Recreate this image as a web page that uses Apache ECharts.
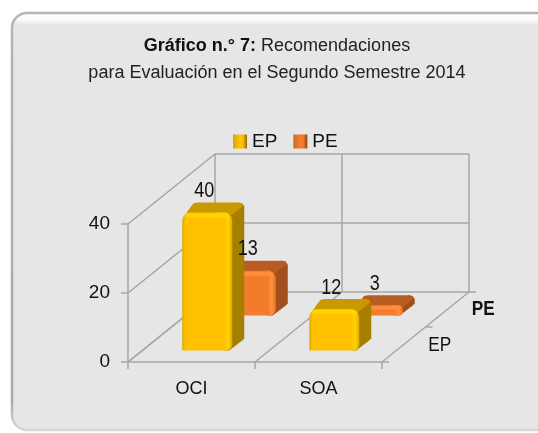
<!DOCTYPE html>
<html><head><meta charset="utf-8">
<script src="https://cdn.jsdelivr.net/npm/echarts@6/dist/echarts.min.js"></script>
<style>html,body{margin:0;padding:0;background:#fff}#c{width:538px;height:433px}</style>
</head><body><div id="c"></div>
<script>
const categories = ['OCI', 'SOA'];
const depthNames = ['EP', 'PE'];
const epValues = [40, 12];
const peValues = [13, 3];
const yTicks = [0, 20, 40];

const DX = 87, DY = -70;
const BAR_W = 50, BAR_DX = 12, BAR_DY = -10;
const NARROW = 0.82;
const palettes = {
  EP: { edge: '#e0a800', front: '#ffc000', hi: '#ffd400', top: '#c99a00', side: '#a67f00' },
  PE: { edge: '#e87528', front: '#f27c2c', hi: '#ff8f3c', top: '#b85c22', side: '#a14f1c' }
};
const FONT = '"Liberation Sans",sans-serif';
const lineColor = '#a6a6a6';

function barBox(api, depthIdx) {
  const base = api.coord([api.value(0), 0]);
  const tip = api.coord([api.value(0), api.value(1)]);
  const t = (depthIdx + 0.5) / 2;
  const cx = base[0] + DX * t - 6, oy = DY * t + 6;
  return { cx, x0: cx - BAR_W / 2, x1: cx + BAR_W / 2, yb: base[1] + oy, yt: tip[1] + oy };
}

function barRender(depthIdx, name) {
  return function (params, api) {
    const p = palettes[name];
    const { x0, x1, yb, yt } = barBox(api, depthIdx);
    const h = yb - yt;
    const r = Math.min(8, h / 2.5);
    const tx1 = x1 + BAR_DX, ty = yt + BAR_DY;
    return {
      type: 'group',
      children: [
        { type: 'polygon', shape: { points: [[x1 - 6, yt], [tx1 - 6, ty], [tx1 - 2, ty + 1], [tx1, ty + 4], [tx1, yb + BAR_DY - 2], [tx1 - 2, yb + BAR_DY], [x1 - 3, yb], [x1 - 8, yb]] }, style: { fill: p.side } },
        { type: 'polygon', shape: { points: [[x0 + 3, yt + 2], [x0 + BAR_DX - 1, ty + 1], [x0 + BAR_DX + 3, ty], [tx1 - 5, ty], [tx1 - 2, ty + 1], [tx1 - 1, ty + 3], [x1 - 1, yt + 3], [x1 - 6, yt]] }, style: { fill: p.top } },
        { type: 'rect', shape: { x: x0, y: yt, width: BAR_W, height: h, r: [r, r, Math.min(6, h / 3), 0] },
          style: { fill: new echarts.graphic.LinearGradient(0, 0, 1, 0, [
            { offset: 0, color: p.edge }, { offset: 0.06, color: p.front }, { offset: 0.84, color: p.front }, { offset: 0.92, color: p.hi }, { offset: 1, color: p.edge }]) } },
        { type: 'rect', shape: { x: x0 + 3, y: yt + 1, width: BAR_W - 6, height: Math.min(4, h / 3), r: 2 }, style: { fill: p.hi } }
      ]
    };
  };
}

function labelRender(depthIdx) {
  return function (params, api) {
    const { cx, yt } = barBox(api, depthIdx);
    return { type: 'text', x: cx - 3, y: yt + BAR_DY - 11.5, scaleX: NARROW,
      style: { text: String(api.value(1)), x: 0, y: 0, align: 'center', verticalAlign: 'middle', font: '22px ' + FONT, fill: '#111' } };
  };
}

function frameRender(params, api) {
  const cs = params.coordSys;
  const y = api.coord([0, api.value(0)])[1];
  const l = cs.x;
  return { type: 'polyline', shape: { points: [[l, y], [l + DX, y + DY], [l + cs.width + DX, y + DY]] },
    style: { fill: null, stroke: lineColor, lineWidth: 1.5 } };
}

function floorRender(params, api) {
  const cs = params.coordSys;
  const b = cs.y + cs.height, l = cs.x, w = cs.width, top = cs.y;
  const line = { stroke: lineColor, lineWidth: 1.5, fill: null };
  const kids = [];
  for (let i = 0; i <= categories.length; i++) {
    const x = l + w * i / categories.length;
    kids.push({ type: 'polyline', shape: { points: [[x, b], [x + DX, b + DY], [x + DX, top + DY]] }, style: line });
  }
  depthNames.forEach((n, i) => {
    const t = (i + 1) / depthNames.length;
    const px = l + w + DX * t, py = b + DY * t;
    kids.push({ type: 'line', shape: { x1: px, y1: py, x2: px + 7, y2: py }, style: line });
    const lt = (i + 0.5) / depthNames.length;
    kids.push({ type: 'text', x: l + w + DX * lt + 36, y: b + DY * lt + 1 + (i ? -1 : 0), scaleX: NARROW,
      style: { text: n, x: 0, y: 0, align: 'center', verticalAlign: 'middle', font: (i ? 'bold ' : '') + '21px ' + FONT, fill: '#111' } });
  });
  kids.push({ type: 'line', shape: { x1: l + w, y1: b, x2: l + w + 7, y2: b }, style: line });
  return { type: 'group', children: kids };
}

const swatch = (a, b, c) => new echarts.graphic.LinearGradient(0, 0, 1, 0, [
  { offset: 0, color: a }, { offset: 0.45, color: b }, { offset: 0.7, color: b }, { offset: 1, color: c }]);

const chart = echarts.init(document.getElementById('c'), null, { renderer: 'canvas' });
chart.setOption({
  animation: false,
  backgroundColor: '#ffffff',
  graphic: [
    { type: 'rect', z: -10, shape: { x: 12, y: 13, width: 540, height: 417, r: 15 },
      style: { fill: new echarts.graphic.LinearGradient(0, 0, 0, 1, [
          { offset: 0, color: '#ffffff' }, { offset: 0.018, color: '#fbfbfb' }, { offset: 0.032, color: '#e6e6e6' }, { offset: 1, color: '#e6e6e6' }]),
        stroke: new echarts.graphic.LinearGradient(0, 0, 0, 1, [
          { offset: 0, color: '#b4b4b4' }, { offset: 0.93, color: '#a8a8a8' }, { offset: 0.985, color: '#d2d2d2' }, { offset: 1, color: '#d8d8d8' }]),
        lineWidth: 2.5 } }
  ],
  title: {
    text: '{b|Gráfico n.° 7:} {n|Recomendaciones}\n{n|para Evaluación en el Segundo Semestre 2014}',
    left: 272, top: 28, textAlign: 'center',
    textStyle: { fontWeight: 'normal', rich: {
      b: { fontFamily: FONT, fontSize: 18, fontWeight: 'bold', color: '#111', lineHeight: 27 },
      n: { fontFamily: FONT, fontSize: 18, fontWeight: 'normal', color: '#222', lineHeight: 27 }
    } }
  },
  legend: {
    data: [
      { name: 'EP', itemStyle: { color: swatch('#d9a500', '#ffc000', '#8c6b00') } },
      { name: 'PE', itemStyle: { color: swatch('#c96a26', '#f27c2c', '#8a4516') } }
    ],
    left: 228, top: 127, itemWidth: 14, itemHeight: 14, itemGap: 16,
    textStyle: { fontFamily: FONT, fontSize: 19, color: '#111' },
    icon: 'rect'
  },
  grid: { left: 128, top: 224, width: 254, height: 138 },
  xAxis: {
    type: 'category', data: categories,
    axisLine: { lineStyle: { color: lineColor, width: 1.5 } },
    axisTick: { show: true, length: 7, lineStyle: { color: lineColor, width: 1.5 } },
    axisLabel: { fontFamily: FONT, fontSize: 18, color: '#111', margin: 18 }
  },
  yAxis: {
    type: 'value', min: 0, max: 40, interval: 20,
    axisLine: { show: true, lineStyle: { color: lineColor, width: 1.5 } },
    axisTick: { show: true, length: 7, lineStyle: { color: lineColor, width: 1.5 } },
    splitLine: { show: false },
    axisLabel: { fontFamily: FONT, fontSize: 19, color: '#111', margin: 18 }
  },
  series: [
    { name: 'frame', type: 'custom', z: 1, silent: true, renderItem: frameRender, data: yTicks.map(v => [v]), encode: { y: 0 } },
    { name: 'floor', type: 'custom', z: 1, silent: true, renderItem: floorRender, data: [[0, 0]] },
    { name: 'PE', type: 'custom', z: 3, renderItem: barRender(1, 'PE'), itemStyle: { color: '#c96a26' }, data: peValues.map((v, i) => [i, v]), encode: { x: 0, y: 1 } },
    { name: 'EP', type: 'custom', z: 4, renderItem: barRender(0, 'EP'), itemStyle: { color: '#d9a500' }, data: epValues.map((v, i) => [i, v]), encode: { x: 0, y: 1 } },
    { name: 'PE labels', type: 'custom', z: 5, silent: true, renderItem: labelRender(1), data: peValues.map((v, i) => [i, v]), encode: { x: 0, y: 1 } },
    { name: 'EP labels', type: 'custom', z: 5, silent: true, renderItem: labelRender(0), data: epValues.map((v, i) => [i, v]), encode: { x: 0, y: 1 } }
  ]
});
</script></body></html>
